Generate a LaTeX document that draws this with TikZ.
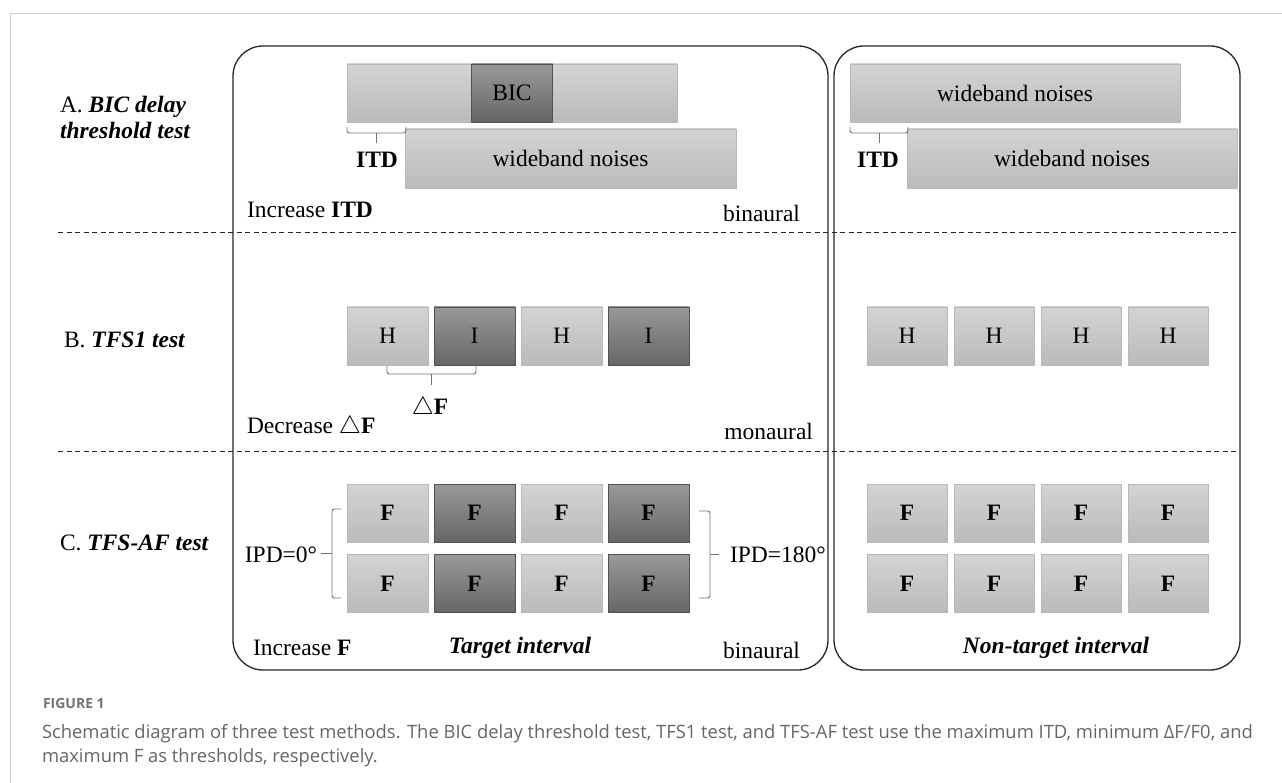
\documentclass[tikz,border=0pt]{standalone}
\usepackage{fontspec}
\setmainfont{Liberation Serif}
\newfontfamily\capfont{Open Sans}
\usepackage{xcolor}
\usepackage{tikz}
\usetikzlibrary{positioning}

\definecolor{capgray}{HTML}{666666}

\begin{document}
\begin{tikzpicture}[x=1pt,y=-1pt,
      every node/.style={align=center,inner sep=0pt,outer sep=0pt,
        font=\fontsize{23.5}{26}\selectfont},
      light/.style={draw=black!28,top color=black!17,bottom color=black!27,
        minimum height=58pt},
      dark/.style={draw=black!68,top color=black!40,bottom color=black!60,
        minimum height=58pt},
      sq/.style={minimum width=81pt},
      rsq/.style={minimum width=80pt},
      panel/.style={draw=black!85,line width=1.3pt,rounded corners=30pt},
      sep/.style={draw=black!85,line width=1pt,dash pattern=on 5pt off 3.5pt},
      brk/.style={draw=black!55,line width=0.9pt,rounded corners=2.5pt},
      capt/.style={text=capgray,align=left}]
    \useasboundingbox (0,0) rectangle (1282,783);
    \draw[black!20] (10,783) -- (10,13) -- (1282,13);
    \node[panel,minimum width=595pt,minimum height=624pt] (target) at (530.5,358) {};
    \node[panel,minimum width=406pt,minimum height=624pt] (nontarget) at (1037,358) {};
    \draw[sep] (58,233) -- (1238,233);
    \draw[sep] (58,451) -- (1238,451);
    \node[anchor=west,align=left] (labA) at (60,117)
      {A. \textbf{\textit{BIC delay}}\\\textbf{\textit{threshold test}}};
    \node[anchor=west] (labB) at (64,340) {B. \textbf{\textit{TFS1 test}}};
    \node[anchor=west] (labC) at (60,543) {C. \textbf{\textit{TFS-AF test}}};
    \node[light,minimum width=330pt] (nzA) at (512,93) {};
    \node[dark,minimum width=81pt] (bic) at (nzA) {BIC};
    \node[light,minimum width=331pt,minimum height=59pt] (nzB) at (570.5,158.5) {wideband noises};
    \draw[brk] (347,127) -- (347,133) -- (406,133) -- (406,127);
    \draw[brk] (376.5,133) -- (376.5,143);
    \node (itdA) at (377,160) {\textbf{ITD}};
    \node[anchor=west] (incA) at (247,210) {Increase \textbf{ITD}};
    \node[anchor=east] (binA) at (800,213) {binaural};
    \node[light,minimum width=330pt] (nzC) at (1015,93) {wideband noises};
    \node[light,minimum width=330pt,minimum height=59pt] (nzD) at (1072,158.5) {wideband noises};
    \draw[brk] (850,127) -- (850,133) -- (908,133) -- (908,127);
    \draw[brk] (879,133) -- (879,143);
    \node (itdB) at (878,160) {\textbf{ITD}};
    \node[light,sq] (h1) at (387.5,336) {H};
    \node[dark,sq,right=6pt of h1] (i1) {I};
    \node[light,sq,right=6pt of i1] (h2) {H};
    \node[dark,sq,right=6pt of h2] (i2) {I};
    \draw[brk] (387,366) -- (387,374) -- (476,374) -- (476,366);
    \draw[brk] (431.5,374) -- (431.5,385);
    \node (df) at (430,408) {$\triangle$\textbf{F}};
    \node[anchor=west] (decB) at (247,427) {Decrease $\triangle$\textbf{F}};
    \node[anchor=east] (monB) at (813,431) {monaural};
    \node[light,rsq] (rh1) at (907,336) {H};
    \node[light,rsq,right=7pt of rh1] (rh2) {H};
    \node[light,rsq,right=7pt of rh2] (rh3) {H};
    \node[light,rsq,right=7pt of rh3] (rh4) {H};
    \node[light,sq] (f1) at (387.5,513) {\textbf{F}};
    \node[dark,sq,right=6pt of f1] (f2) {\textbf{F}};
    \node[light,sq,right=6pt of f2] (f3) {\textbf{F}};
    \node[dark,sq,right=6pt of f3] (f4) {\textbf{F}};
    \node[light,sq] (f5) at (387.5,583.5) {\textbf{F}};
    \node[dark,sq,right=6pt of f5] (f6) {\textbf{F}};
    \node[light,sq,right=6pt of f6] (f7) {\textbf{F}};
    \node[dark,sq,right=6pt of f7] (f8) {\textbf{F}};
    \draw[brk] (341,509) -- (332,509) -- (332,598) -- (341,598);
    \draw[brk] (332,553.5) -- (321,553.5);
    \draw[brk] (699,511) -- (710,511) -- (710,598) -- (699,598);
    \draw[brk] (710,554) -- (719,554);
    \node (ipd0) at (281,555) {IPD=0°};
    \node[anchor=west] (ipd180) at (730,555) {IPD=180°};
    \node[light,rsq] (g1) at (907,513) {\textbf{F}};
    \node[light,rsq,right=7pt of g1] (g2) {\textbf{F}};
    \node[light,rsq,right=7pt of g2] (g3) {\textbf{F}};
    \node[light,rsq,right=7pt of g3] (g4) {\textbf{F}};
    \node[light,rsq] (g5) at (907,583.5) {\textbf{F}};
    \node[light,rsq,right=7pt of g5] (g6) {\textbf{F}};
    \node[light,rsq,right=7pt of g6] (g7) {\textbf{F}};
    \node[light,rsq,right=7pt of g7] (g8) {\textbf{F}};
    \node[anchor=west] (incC) at (253,648) {Increase \textbf{F}};
    \node (tgt) at (520,648) {\textbf{\textit{Target interval}}};
    \node[anchor=east] (binC) at (800,650) {binaural};
    \node (ntgt) at (1056,648) {\textbf{\textit{Non-target interval}}};
    \node[capt,anchor=base west,font=\capfont\bfseries\fontsize{14}{18}\selectfont,text=black!55] (fig) at (43,708) {FIGURE 1};
    \node[capt,anchor=base west,font=\capfont\fontsize{18.4}{24}\selectfont] (caption) at (42,762)
      {Schematic diagram of three test methods. The BIC delay threshold test, TFS1 test, and TFS-AF test use the maximum ITD, minimum ΔF/F0, and\\maximum F as thresholds, respectively.};
  \end{tikzpicture}
\end{document}
